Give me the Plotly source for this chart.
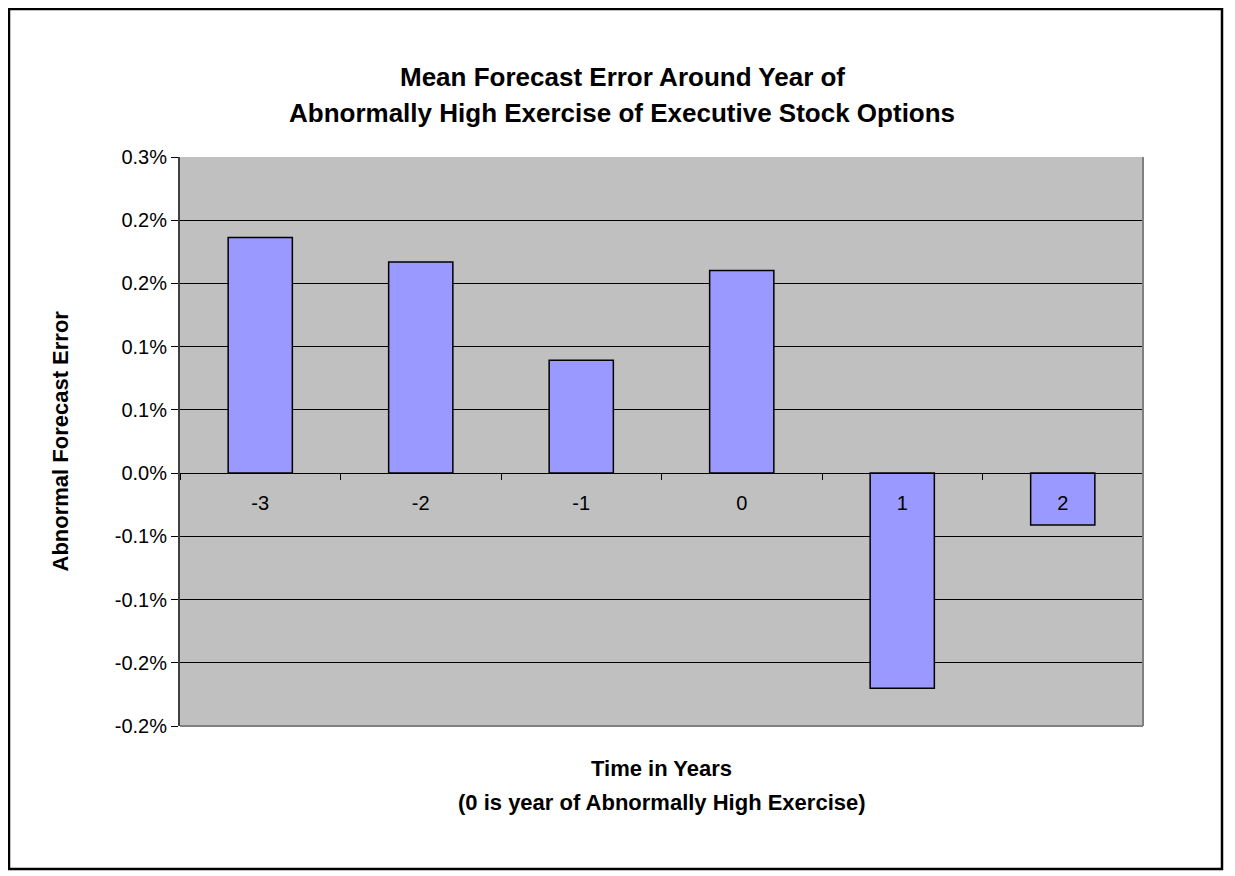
import plotly.graph_objects as go

# Data (values in percent)
years = ["-3", "-2", "-1", "0", "1", "2"]
errors_pct = [0.1864, 0.1669, 0.0893, 0.1603, -0.1701, -0.0411]

ytick_vals = [-0.20, -0.15, -0.10, -0.05, 0.0, 0.05, 0.10, 0.15, 0.20, 0.25]
ytick_text = ["-0.2%", "-0.2%", "-0.1%", "-0.1%", "0.0%", "0.1%", "0.1%", "0.2%", "0.2%", "0.3%"]

title_lines = ["Mean Forecast Error Around Year of",
               "Abnormally High Exercise of Executive Stock Options"]
xtitle_lines = ["Time in Years", "(0 is year of Abnormally High Exercise)"]
ytitle = "Abnormal Forecast Error"

# page body has an 8px margin; work in screen pixels and offset
OFF = 8
W, H = 1235 - OFF, 876 - OFF
L, T = 180 - OFF, 157 - OFF
PW, PH = 963, 569
R, B = W - L - PW, H - T - PH
ymin, ymax = -0.2, 0.25
FONT = "Liberation Sans, Arial, sans-serif"

def px_x(px):  # screen px -> paper
    return (px - OFF - L) / PW

def px_y(py):
    return (T + PH - (py - OFF)) / PH

fig = go.Figure()
fig.add_trace(go.Bar(
    x=years, y=errors_pct,
    marker=dict(color="#9999FF", line=dict(color="#000000", width=1.5)),
    width=0.4,
    hoverinfo="x+y",
))

zero_pos = (0 - ymin) / (ymax - ymin)

fig.update_layout(
    width=W, height=H,
    margin=dict(l=L, r=R, t=T, b=B, pad=0),
    paper_bgcolor="white",
    plot_bgcolor="#C0C0C0",
    showlegend=False,
    font=dict(family=FONT, color="black", size=20),
    xaxis=dict(
        type="category",
        anchor="free", position=zero_pos,
        showline=True, linecolor="black", linewidth=1,
        ticks="outside", ticklen=6, tickcolor="black", tickwidth=1,
        tickson="boundaries",
        showgrid=False, zeroline=False,
        tickfont=dict(size=20, family=FONT),
        ticklabelstandoff=12,
        layer="above traces",
    ),
    yaxis=dict(
        range=[ymin, ymax],
        tickvals=ytick_vals, ticktext=ytick_text,
        showline=True, linecolor="#404040", linewidth=2,
        ticks="outside", ticklen=7, tickcolor="black", tickwidth=1,
        showgrid=True, gridcolor="black", gridwidth=1,
        zeroline=False,
        tickfont=dict(size=20, family=FONT),
    ),
)

# plot-area right and bottom border (gray)
fig.add_shape(type="line", xref="paper", yref="paper", x0=1, x1=1, y0=0, y1=1,
              line=dict(color="#808080", width=2))
fig.add_shape(type="line", xref="paper", yref="paper", x0=0, x1=1, y0=0, y1=0,
              line=dict(color="#808080", width=2))
# outer chart border
fig.add_shape(type="rect", xref="paper", yref="paper",
              x0=px_x(9), x1=px_x(1222), y0=px_y(869), y1=px_y(9),
              line=dict(color="black", width=2.5), fillcolor="rgba(0,0,0,0)")

# Title
for line, ypix in zip(title_lines, [77, 113]):
    fig.add_annotation(text=f"<b>{line}</b>", xref="paper", yref="paper",
                       x=px_x(622), y=px_y(ypix), xanchor="center", yanchor="middle",
                       showarrow=False, font=dict(size=26, family=FONT, color="black"))
# X-axis title
for line, ypix in zip(xtitle_lines, [768, 802]):
    fig.add_annotation(text=f"<b>{line}</b>", xref="paper", yref="paper",
                       x=0.5, y=px_y(ypix), xanchor="center", yanchor="middle",
                       showarrow=False, font=dict(size=22, family=FONT, color="black"))
# Y-axis title
fig.add_annotation(text=f"<b>{ytitle}</b>", xref="paper", yref="paper",
                   x=px_x(60), y=0.5, xanchor="center", yanchor="middle",
                   textangle=-90, showarrow=False,
                   font=dict(size=22, family=FONT, color="black"))

fig.write_html("out.html")
